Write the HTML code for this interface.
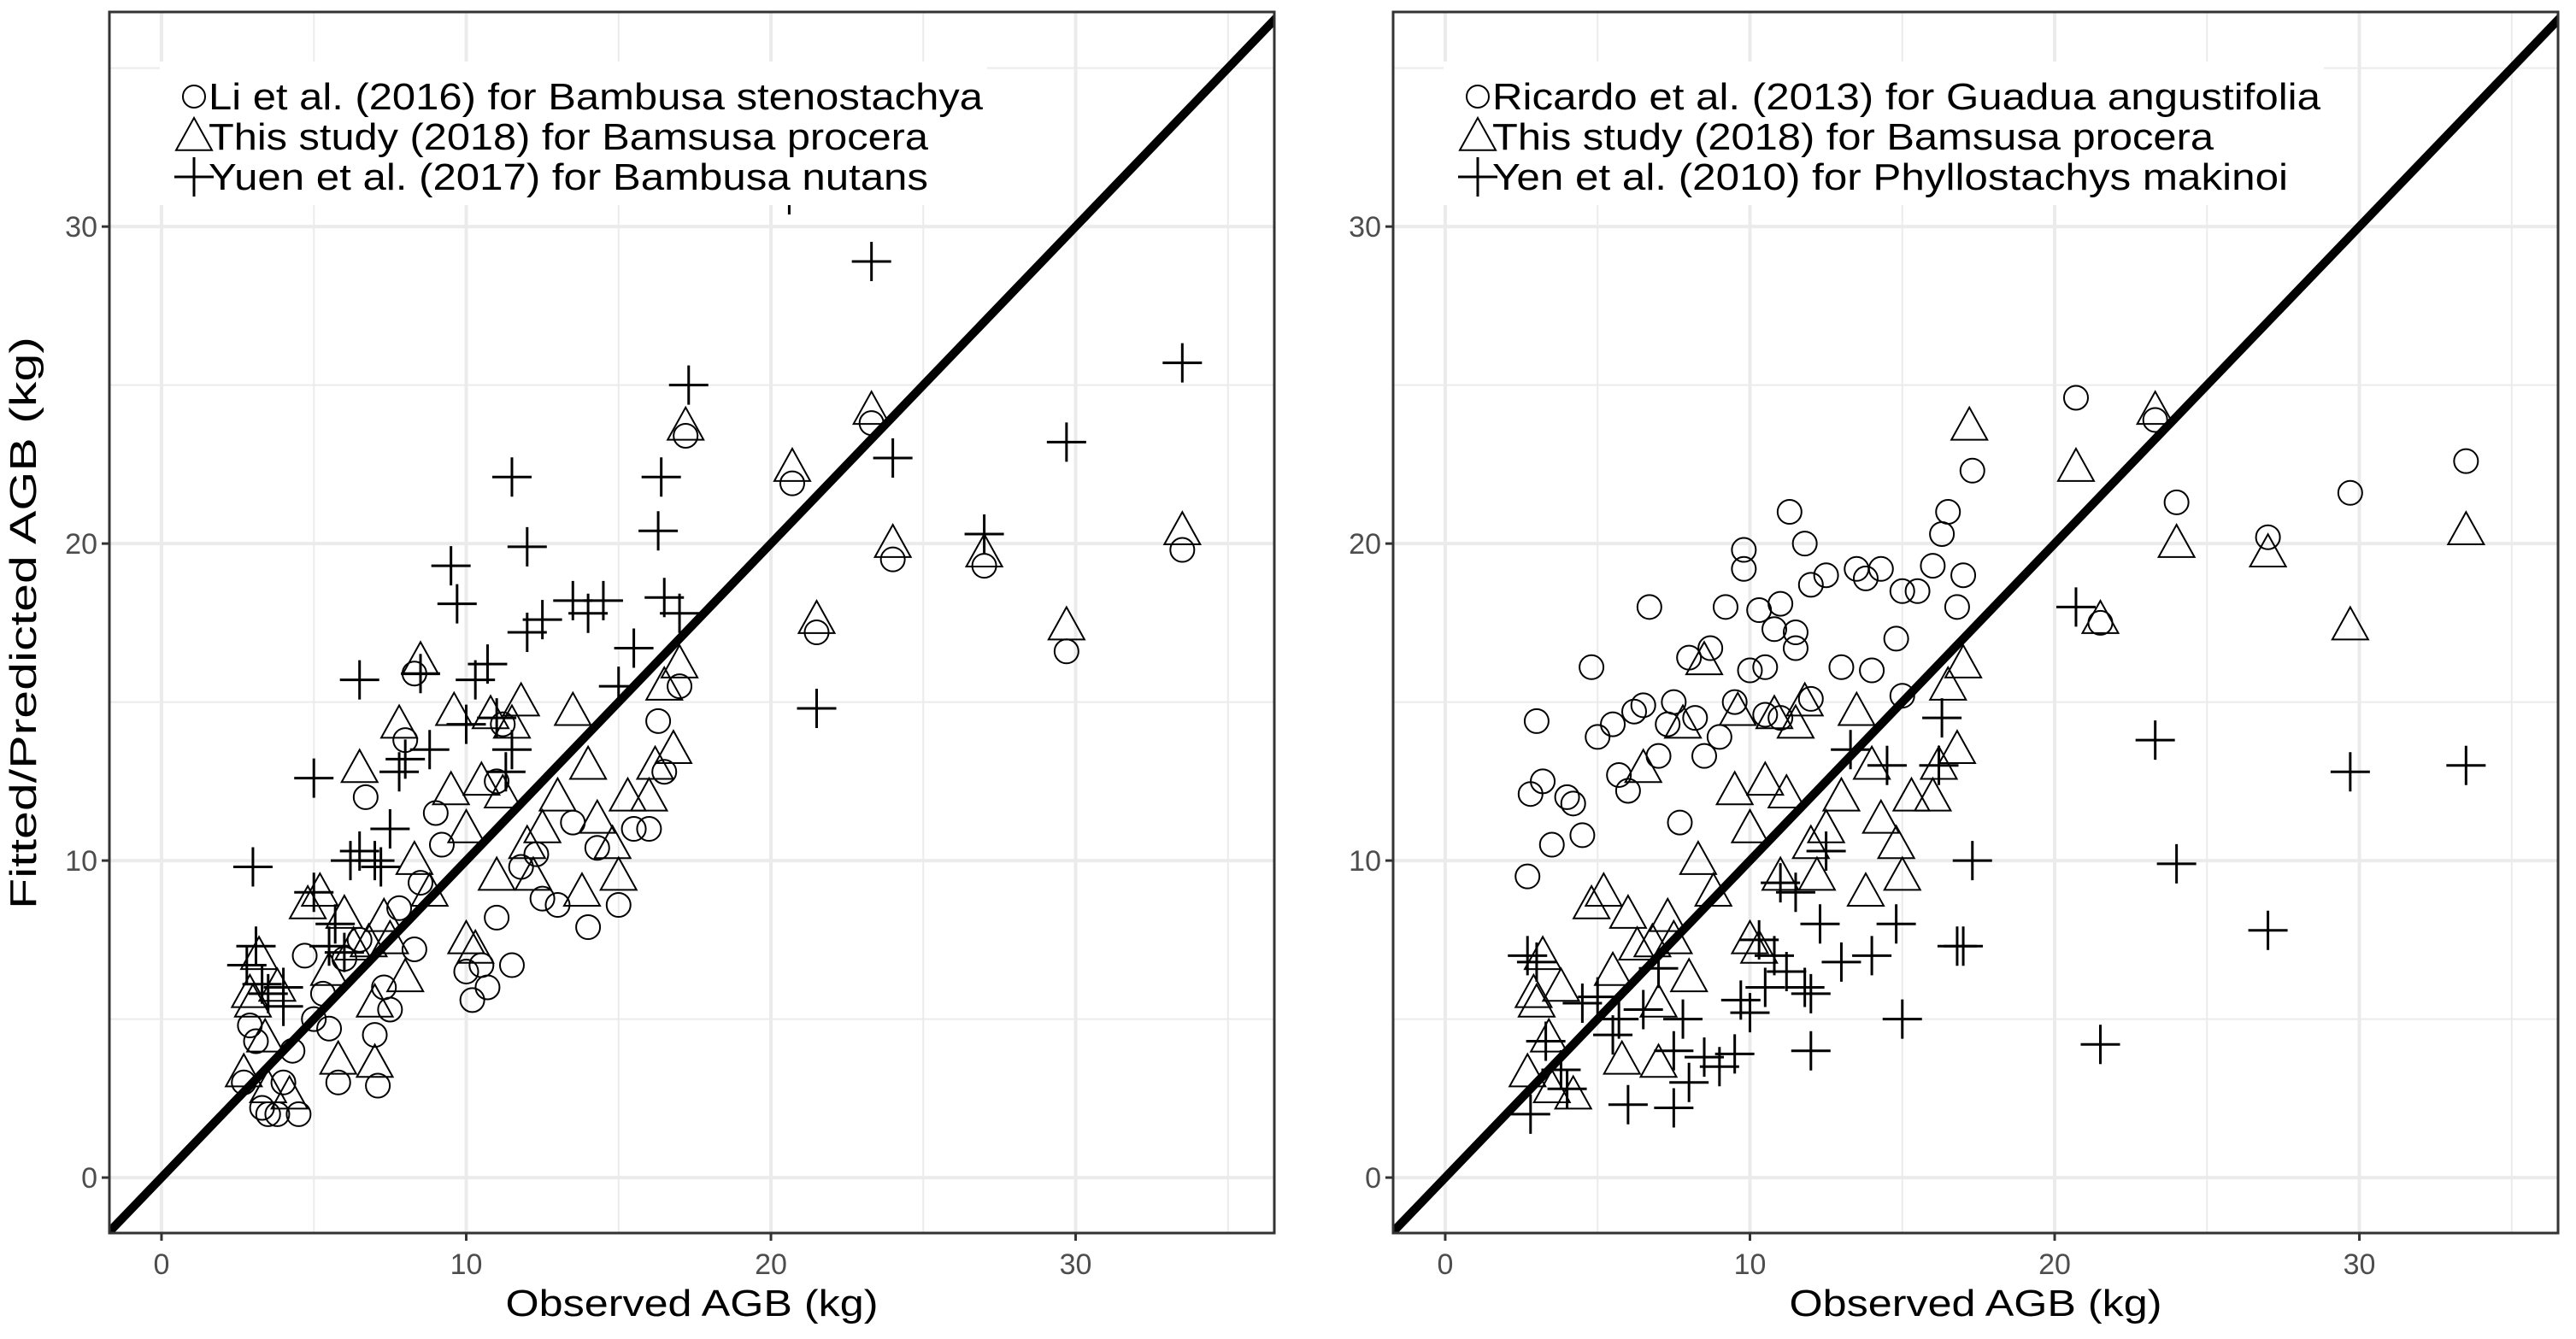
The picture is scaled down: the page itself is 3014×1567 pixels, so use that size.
<!DOCTYPE html>
<html><head><meta charset="utf-8"><style>
html,body{margin:0;padding:0;background:#fff;}
svg{display:block;font-family:"Liberation Sans",sans-serif;}
</style></head><body>
<svg id="c" width="3014" height="1567" viewBox="0 0 3014 1567">
<defs>
<clipPath id="clipL"><rect x="128" y="14" width="1363" height="1429"/></clipPath>
<clipPath id="clipR"><rect x="1630" y="14" width="1363" height="1429"/></clipPath>
</defs>
<text x="42" y="729" font-size="44" text-anchor="middle" textLength="670" lengthAdjust="spacingAndGlyphs" transform="rotate(-90 42 729)" fill="#000">Fitted/Predicted AGB (kg)</text>
</svg>
<script>
const xTicks=[0,10,20,30];
const yTicks=[0,10,20,30];
const legendLeft=["Li et al. (2016) for Bambusa stenostachya","This study (2018) for Bamsusa procera","Yuen et al. (2017) for Bambusa nutans"];
const legendRight=["Ricardo et al. (2013) for Guadua angustifolia","This study (2018) for Bamsusa procera","Yen et al. (2010) for Phyllostachys makinoi"];
const thisX=[2.7,2.9,3.0,3.2,3.4,3.5,3.8,4.2,4.8,5.2,5.5,5.8,6.0,6.3,6.5,6.8,7.0,7.0,7.3,7.5,7.8,8.0,8.3,8.5,8.8,9.5,9.6,10.0,10.0,10.3,10.5,10.8,11.0,11.2,11.5,11.8,12.0,12.2,12.5,13.0,13.5,13.8,14.0,14.3,14.8,15.0,15.3,16.0,16.2,16.5,16.8,17.0,17.2,20.7,21.5,23.3,24.0,27.0,29.7,33.5];
const thisY=[3.3,5.8,5.5,7.0,4.4,2.8,6.0,2.6,8.6,9.0,6.5,3.7,8.3,7.3,12.9,7.4,5.5,3.6,8.2,7.5,14.3,6.3,10.0,16.3,9.0,12.2,14.7,11.0,7.5,7.2,12.5,14.6,9.5,12.1,14.3,15.0,10.5,9.5,11.0,12.0,14.7,9.0,13.0,11.3,10.5,9.5,12.0,12.0,13.0,15.5,13.5,16.2,23.7,22.4,17.6,24.2,20.0,19.7,17.4,20.4];
const liX=[2.7,2.9,3.1,3.3,3.5,3.8,4.0,4.3,4.5,4.7,5.0,5.3,5.5,5.8,6.0,6.5,7.0,7.1,7.3,7.5,7.8,8.0,8.3,8.5,9.0,9.2,10.0,10.2,10.5,10.7,11.0,11.5,11.2,11.8,12.3,12.5,13.0,13.5,14.0,14.3,15.0,15.5,16.0,16.3,16.5,17.0,17.2,20.7,21.5,23.3,24.0,27.0,29.7,33.5,6.7,8.3,11.0];
const liY=[3.0,4.8,4.3,2.2,2.0,2.0,3.0,4.0,2.0,7.0,5.0,5.8,4.7,3.0,6.9,7.5,4.5,2.9,6.0,5.3,8.5,13.8,7.2,9.3,11.5,10.5,6.5,5.6,6.7,6.0,8.2,6.7,14.3,9.8,10.2,8.8,8.6,11.2,7.9,10.4,8.6,11.0,11.0,14.4,12.8,15.5,23.4,21.9,17.2,23.8,19.5,19.3,16.6,19.8,12.0,15.9,12.5];
const yuenX=[2.8,3.0,3.1,3.3,3.5,4.0,4.0,5.0,5.0,5.5,5.7,6.0,6.2,6.5,6.5,7.0,7.2,7.5,7.8,8.0,8.5,8.8,9.5,9.7,10.0,10.3,10.7,11.0,11.5,11.5,12.0,12.0,12.5,13.5,14.0,14.5,15.0,15.5,16.3,16.4,17.0,17.3,20.6,21.5,23.3,24.0,27.0,29.7,33.5,16.5,11.3];
const yuenY=[6.7,9.8,7.3,6.1,5.8,6.0,5.4,12.6,9.0,7.3,8.0,7.1,10.0,15.7,10.3,10.0,9.8,11.0,12.8,13.2,15.9,13.5,19.3,18.1,14.3,15.7,16.2,14.5,13.5,22.1,19.9,17.2,17.6,18.2,17.8,18.2,15.5,16.7,20.4,22.1,17.8,25.0,31.0,14.8,28.9,22.7,20.3,23.2,25.7,18.3,12.8];
const ricX=[2.7,2.8,3.0,3.2,3.5,4.0,4.2,4.5,4.8,5.0,5.5,5.7,6.0,6.2,6.5,6.7,7.0,7.3,7.5,7.7,8.0,8.2,8.5,8.7,9.0,9.2,9.5,9.8,9.8,10.0,10.3,10.5,10.5,10.8,11.0,11.0,11.3,11.5,11.5,11.8,12.0,12.0,12.5,13.0,13.5,13.8,14.0,14.3,14.8,15.0,15.0,15.5,16.0,16.3,16.5,16.8,17.0,17.3,20.7,21.5,23.3,24.0,27.0,29.7,33.5];
const ricY=[9.5,12.1,14.4,12.5,10.5,12.0,11.8,10.8,16.1,13.9,14.3,12.7,12.2,14.7,14.9,18.0,13.3,14.3,15.0,11.2,16.4,14.5,13.3,16.7,13.9,18.0,15.0,19.8,19.2,16.0,17.9,16.1,14.6,17.3,18.1,14.5,21.0,17.2,16.7,20.0,15.1,18.7,19.0,16.1,19.2,18.9,16.0,19.2,17.0,18.5,15.2,18.5,19.3,20.3,21.0,18.0,19.0,22.3,24.6,17.5,23.9,21.3,20.2,21.6,22.6];
const yenX=[2.7,2.8,3.0,3.3,3.8,4.0,4.5,5.0,5.5,5.7,6.0,6.5,7.0,7.5,7.5,7.8,8.0,8.5,9.0,9.5,9.7,10.0,10.3,10.5,10.8,11.0,11.2,11.5,11.8,12.0,12.0,12.3,12.5,13.0,13.3,14.0,14.5,15.0,14.8,16.2,16.3,16.8,17.0,17.3,20.7,21.5,23.3,24.0,27.0,29.7,33.5];
const yenY=[7.0,2.0,6.8,4.3,3.4,2.8,5.5,5.7,4.5,5.0,2.3,5.3,6.6,4.0,2.2,5.0,3.0,3.8,3.5,3.9,5.6,5.2,7.5,6.0,7.0,9.3,6.5,9.0,6.0,5.8,4.0,8.0,10.3,6.8,13.5,7.0,13.0,5.0,8.0,13.0,14.5,7.3,7.3,10.0,18.0,4.2,13.8,9.9,7.8,12.8,13.0];
const legendLenLeft=[906,842,842];
const legendLenRight=[969,844,931];

const NS='http://www.w3.org/2000/svg';
const svg=document.getElementById('c');
function mk(tag,attrs,parent){const e=document.createElementNS(NS,tag);for(const k in attrs)e.setAttribute(k,attrs[k]);(parent||svg).appendChild(e);return e;}
const XMIN=-1.71,XMAX=36.52,YMIN=-1.75,YMAX=36.77;
function panel(L,side,circX,circY,plusX,plusY,legend,lens){
  const R=L+1363,T=14,B=1443;
  const sx=v=>L+(v-XMIN)/(XMAX-XMIN)*(R-L);
  const sy=v=>B-(v-YMIN)/(YMAX-YMIN)*(B-T);
  const g=mk('g',{});
  
  
  for(let v=-5;v<=40;v+=5){
    if(v%10===0)continue;
    if(v>XMIN&&v<XMAX){const l=mk('line',{x1:sx(v),x2:sx(v),y1:T,y2:B,stroke:'#ebebeb','stroke-width':2},g);}
    if(v>YMIN&&v<YMAX){const l=mk('line',{x1:L,x2:R,y1:sy(v),y2:sy(v),stroke:'#ebebeb','stroke-width':2},g);}
  }
  xTicks.forEach(v=>{
    const l=mk('line',{x1:sx(v),x2:sx(v),y1:T,y2:B,stroke:'#ebebeb','stroke-width':4},g);
    
    mk('line',{x1:sx(v),x2:sx(v),y1:B,y2:B+9,stroke:'#333','stroke-width':3},g);
    const t=mk('text',{x:sx(v),y:B+48,'font-size':34,fill:'#4d4d4d','text-anchor':'middle'},g);
    t.textContent=v;
    
  });
  yTicks.forEach(v=>{
    const l=mk('line',{x1:L,x2:R,y1:sy(v),y2:sy(v),stroke:'#ebebeb','stroke-width':4},g);
    
    mk('line',{x1:L-9,x2:L,y1:sy(v),y2:sy(v),stroke:'#333','stroke-width':3},g);
    const t=mk('text',{x:L-14,y:sy(v)+12,'font-size':34,fill:'#4d4d4d','text-anchor':'end'},g);
    t.textContent=v;
    
  });
  const clip=mk('g',{'clip-path':'url(#clip'+(side==='left'?'L':'R')+')'},g);
  
  function circ(x,y,gp){return mk('circle',{cx:x,cy:y,r:14,fill:'none',stroke:'#000','stroke-width':2},gp);}
  function tri(x,y,gp){const s=21;return mk('polygon',{points:`${x},${y-s*1.05} ${x-s},${y+s*0.75} ${x+s},${y+s*0.75}`,fill:'none',stroke:'#000','stroke-width':2},gp);}
  function plus(x,y,gp){const s=23;return mk('path',{d:`M${x-s},${y}H${x+s}M${x},${y-s}V${y+s}`,stroke:'#000','stroke-width':3,fill:'none'},gp);}
  circX.forEach((v,i)=>{const e=circ(sx(v),sy(circY[i]),clip);});
  thisX.forEach((v,i)=>{const e=tri(sx(v),sy(thisY[i]),clip);});
  plusX.forEach((v,i)=>{const e=plus(sx(v),sy(plusY[i]),clip);});
  const d=mk('line',{x1:sx(-5),y1:sy(-5),x2:sx(40),y2:sy(40),stroke:'#000','stroke-width':10},clip);
  
  const lg=mk('g',{},g);
  
  const lgbg=mk('rect',{x:L+59,y:72,width:side==='left'?968:1030,height:168,fill:'#fff'},lg);
  
  const ys=[113,160,207];
  const syms=[circ,tri,plus];
  legend.forEach((s,i)=>{
    const lx=L+99;
    const m=i===0?mk('circle',{cx:lx,cy:ys[i],r:13,fill:'none',stroke:'#000','stroke-width':2},lg):syms[i](lx,ys[i],lg);
    
    const t=mk('text',{x:lx+17,y:ys[i]+15,'font-size':44,fill:'#000',textLength:lens[i],lengthAdjust:'spacingAndGlyphs'},lg);
    t.textContent=s;
    
  });
  const b=mk('rect',{x:L,y:T,width:R-L,height:B-T,fill:'none',stroke:'#333','stroke-width':3},g);
  
  const xt=mk('text',{x:(L+R)/2,y:1540,'font-size':44,fill:'#000','text-anchor':'middle',textLength:436,lengthAdjust:'spacingAndGlyphs'},g);
  xt.textContent='Observed AGB (kg)';
  
}
panel(128,'left',liX,liY,yuenX,yuenY,legendLeft,legendLenLeft);
panel(1630,'right',ricX,ricY,yenX,yenY,legendRight,legendLenRight);
</script>
</body></html>
